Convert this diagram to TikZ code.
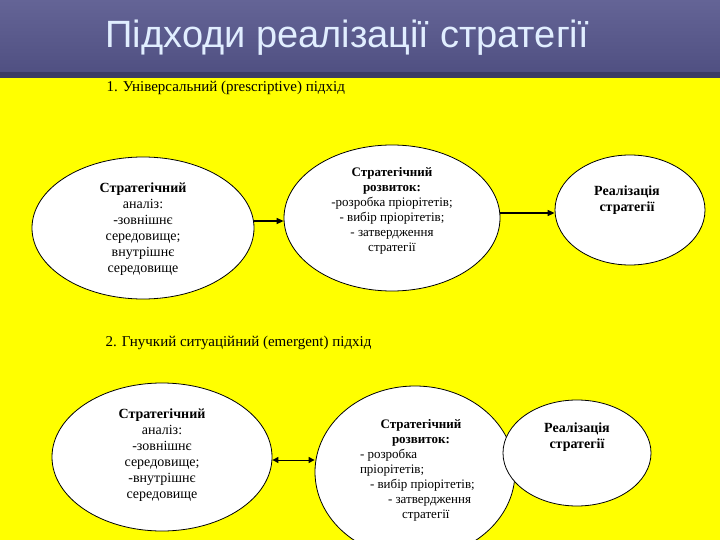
\documentclass[tikz,border=0pt]{standalone}
\usepackage{fontspec}
\setmainfont{Liberation Serif}
\newfontfamily\bodyfont{Liberation Serif}
\newfontfamily\hdfont{Liberation Sans}
\usetikzlibrary{shapes.geometric,arrows.meta}
\definecolor{hdtop}{RGB}{100,100,150}
\definecolor{hdbot}{RGB}{80,80,130}
\definecolor{hdline}{RGB}{60,60,100}
\definecolor{hdtext}{RGB}{225,238,255}
\definecolor{ylw}{RGB}{255,255,0}
\begin{document}
\begin{tikzpicture}[x=1pt,y=-1pt,
  ell/.style={ellipse,draw=black,thick,fill=white,inner sep=0pt},
  txt/.style={align=center,font=\bodyfont\fontsize{14}{16}\selectfont},
  arr/.style={-{Triangle[length=7pt,width=6pt]},line width=1.2pt}]
\useasboundingbox (0,0) rectangle (720,540);
\fill[ylw] (0,0) rectangle (720,540);
\shade[top color=hdtop,bottom color=hdbot] (0,0) rectangle (720,72);
\fill[hdline] (0,72) rectangle (720,78);
\node[anchor=west,text=hdtext,font=\hdfont\fontsize{38}{40}\selectfont] (title) at (102,38) {Підходи реалізації стратегії};
\node[anchor=west,font=\bodyfont\fontsize{15}{17}\selectfont] (h1) at (103,88) {1. Універсальний (prescriptive) підхід};
\node[ell,minimum width=222pt,minimum height=142pt] (a1) at (143,228) {};
\node[txt] at (143,229) {\textbf{Стратегічний}\\аналіз:\\-зовнішнє\\середовище;\\внутрішнє\\середовище};
\node[ell,minimum width=216pt,minimum height=146pt] (b1) at (392,218) {};
\node[txt,font=\bodyfont\fontsize{13}{15}\selectfont] at (392,211) {\textbf{Стратегічний}\\\textbf{розвиток:}\\-розробка пріорітетів;\\- вибір пріорітетів;\\- затвердження\\стратегії};
\node[ell,minimum width=150pt,minimum height=110pt] (c1) at (630,210) {};
\node[txt] at (627,200) {\textbf{Реалізація}\\\textbf{стратегії}};
\draw[arr] (a1.east|-0,221) -- (b1.west|-0,221);
\draw[arr] (b1.east|-0,213) -- (c1.west|-0,213);
\node[anchor=west,font=\bodyfont\fontsize{15}{17}\selectfont] (h2) at (102,343) {2. Гнучкий ситуаційний (emergent) підхід};
\node[ell,minimum width=220pt,minimum height=148pt] (a2) at (162,457) {};
\node[txt] at (162,455) {\textbf{Стратегічний}\\аналіз:\\-зовнішнє\\середовище;\\-внутрішнє\\середовище};
\node[ell,minimum width=200pt,minimum height=172pt] (b2) at (415,472) {};
\node[txt,align=left,font=\bodyfont\fontsize{13}{15}\selectfont] at (418,470) {\hspace*{6pt}\makebox[110pt]{\textbf{Стратегічний}}\\\hspace*{6pt}\makebox[110pt]{\textbf{розвиток:}}\\- розробка\\пріорітетів;\\\hspace*{10pt}- вибір пріорітетів;\\\hspace*{28pt}- затвердження\\\hspace*{42pt}стратегії};
\node[ell,minimum width=148pt,minimum height=106pt] (c2) at (577,453) {};
\node[txt] at (577,437) {\textbf{Реалізація}\\\textbf{стратегії}};
\draw[{Triangle[length=6pt,width=6pt]}-{Triangle[length=6pt,width=6pt]},line width=1pt] (a2.east|-0,460) -- (b2.west|-0,460);
\end{tikzpicture}
\end{document}
